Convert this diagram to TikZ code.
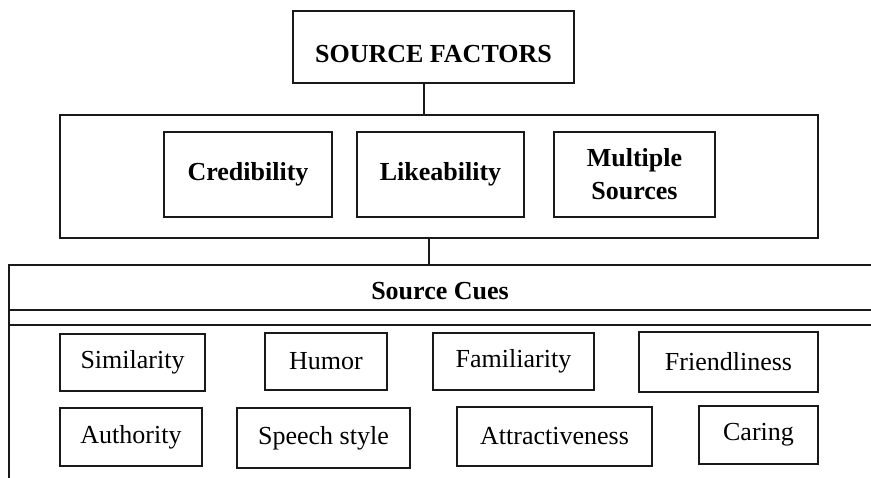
\documentclass[tikz,border=0pt]{standalone}
\usepackage{fontspec}
\setmainfont{Liberation Serif}
\begin{document}
\begin{tikzpicture}[x=1pt,y=-1pt,
  frame/.style={line width=1.5pt, draw=black!90},
  box/.style={draw=black!90, line width=1.5pt, inner sep=0pt, align=center},
  head/.style={box, font=\fontsize{26pt}{33pt}\selectfont\bfseries},
  cue/.style={box, font=\fontsize{26pt}{33pt}\selectfont}]
  \useasboundingbox (0,0) rectangle (871,478);

  % top level
  \node[head, minimum width=281, minimum height=72, text height=32pt, text depth=0pt] (sf) at (433.5,47) {SOURCE FACTORS};

  % group of source factors
  \node[box, minimum width=758, minimum height=123] (grp) at (439,176.5) {};
  \node[head, minimum width=168, minimum height=85] (cred) at (248,174.5) {Credibility};
  \node[head, minimum width=167, minimum height=85] (like) at (440.5,174.5) {Likeability};
  \node[head, minimum width=161, minimum height=85] (multi) at (634.5,174.5) {Multiple\\Sources};

  % source cues band
  \node[font=\fontsize{26pt}{33pt}\selectfont\bfseries, minimum width=862, minimum height=45, inner sep=0pt, text height=24pt, text depth=0pt] (cues) at (440,287.5) {Source Cues};
  \draw[frame] (9,478) |- (871,265);
  \draw[frame] (9,310) -- (871,310);
  \draw[frame] (9,325) -- (871,325);

  % connectors
  \coordinate (c1) at (424,0);
  \coordinate (c2) at (429,0);
  \draw[frame] (sf.south -| c1) -- (grp.north -| c1);
  \draw[frame] (grp.south -| c2) -- (cues.north -| c2);

  % cue boxes
  \node[cue, minimum width=145, minimum height=57] (sim) at (132.5,362.5) {Similarity};
  \node[cue, minimum width=122, minimum height=57] (hum) at (326,361.5) {Humor};
  \node[cue, minimum width=161, minimum height=57] (fam) at (513.5,361.5) {Familiarity};
  \node[cue, minimum width=179, minimum height=60] (fri) at (728.5,362) {Friendliness};
  \node[cue, minimum width=142, minimum height=58] (aut) at (131,437) {Authority};
  \node[cue, minimum width=173, minimum height=60] (spe) at (323.5,438) {Speech style};
  \node[cue, minimum width=195, minimum height=59] (att) at (554.5,436.5) {Attractiveness};
  \node[cue, minimum width=119, minimum height=58] (car) at (758.5,435) {Caring};
\end{tikzpicture}
\end{document}
